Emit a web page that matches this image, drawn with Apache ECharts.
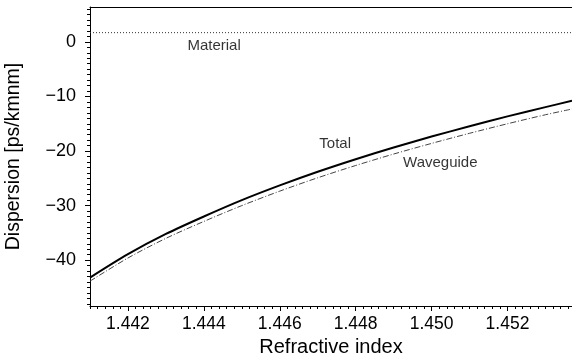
<!DOCTYPE html>
<html>
<head>
<meta charset="utf-8">
<script src="https://cdn.jsdelivr.net/npm/echarts@6/dist/echarts.min.js"></script>
<style>html,body{margin:0;padding:0;background:#fff}#c{width:572px;height:358px}</style>
</head>
<body>
<div id="c"></div>
<script>
// Data
const refractiveIndex = [1.4410, 1.4420, 1.4430, 1.4440, 1.4450, 1.4460, 1.4470, 1.4480, 1.4490, 1.4500, 1.4510, 1.4520, 1.4530, 1.4537];
const totalDispersion = [-43.2, -38.9, -35.2, -32.0, -29.0, -26.3, -23.8, -21.5, -19.35, -17.35, -15.45, -13.65, -11.95, -10.8];
const waveguideDispersion = [-43.85, -39.6, -36.0, -32.9, -30.0, -27.35, -24.9, -22.65, -20.55, -18.6, -16.75, -15.0, -13.35, -12.3];
const materialDispersion = [1.7, 1.7];
const materialX = [1.4410, 1.4537];
const xTickLabels = [1.442, 1.444, 1.446, 1.448, 1.450, 1.452];
const yTickLabels = [-40, -30, -20, -10, 0];
const curveNames = ['Material', 'Total', 'Waveguide'];
const curveLabelAnchors = [[1.44427, -0.7], [1.44746, -18.6], [1.45023, -22.1]];

const xMin = 1.441, xMax = 1.4537, yMin = -48.4, yMax = 6.4;
const xMinor = [];
for (let i = 0; i <= 63; i++) xMinor.push(+(1.441 + i * 0.0002).toFixed(4));
const yMinor = [];
for (let v = -48; v <= 6; v++) yMinor.push(v);

const font = '"Liberation Sans", Arial, sans-serif';
const black = '#000';

const chart = echarts.init(document.getElementById('c'), null, {renderer: 'canvas'});
chart.setOption({
  animation: false,
  backgroundColor: '#fff',
  grid: {left: 90, right: 0, top: 7, bottom: 52, containLabel: false, outerBoundsMode: 'none'},
  xAxis: [
    {
      type: 'value', min: xMin, max: xMax, position: 'bottom',
      axisLine: {show: true, onZero: false, lineStyle: {color: black, width: 1}},
      axisTick: {show: true, length: 5, customValues: xTickLabels, lineStyle: {color: black, width: 1}},
      axisLabel: {show: true, customValues: xTickLabels, margin: 9, color: black, fontFamily: font, fontSize: 17.5,
        formatter: v => v.toFixed(3)},
      splitLine: {show: false},
      name: 'Refractive index', nameLocation: 'middle', nameGap: 31,
      nameTextStyle: {color: black, fontFamily: font, fontSize: 20}
    },
    {
      type: 'value', min: xMin, max: xMax, position: 'bottom',
      axisLine: {show: false, onZero: false},
      axisTick: {show: true, length: 3, customValues: xMinor, lineStyle: {color: black, width: 1}},
      axisLabel: {show: false},
      splitLine: {show: false}
    },
    {
      type: 'value', min: xMin, max: xMax, position: 'top',
      axisLine: {show: true, onZero: false, lineStyle: {color: black, width: 1}},
      axisTick: {show: false}, axisLabel: {show: false}, splitLine: {show: false}
    }
  ],
  yAxis: [
    {
      type: 'value', min: yMin, max: yMax, position: 'left',
      axisLine: {show: true, onZero: false, lineStyle: {color: black, width: 1}},
      axisTick: {show: true, length: 5, customValues: yTickLabels, lineStyle: {color: black, width: 1}},
      axisLabel: {show: true, customValues: yTickLabels, margin: 14, color: black, fontFamily: font, fontSize: 18,
        formatter: v => (v < 0 ? '\u2212' + Math.abs(v) : String(v))},
      splitLine: {show: false},
      name: 'Dispersion [ps/kmnm]', nameLocation: 'middle', nameGap: 66,
      nameTextStyle: {color: black, fontFamily: font, fontSize: 19.5}
    },
    {
      type: 'value', min: yMin, max: yMax, position: 'left',
      axisLine: {show: false, onZero: false},
      axisTick: {show: true, length: 3, customValues: yMinor, lineStyle: {color: black, width: 1}},
      axisLabel: {show: false},
      splitLine: {show: false}
    }
  ],
  series: [
    {
      name: 'Material', type: 'line', xAxisIndex: 0, yAxisIndex: 0, showSymbol: false, symbol: 'none',
      data: materialX.map((x, i) => [x, materialDispersion[i]]),
      lineStyle: {color: '#333', width: 1, type: [1, 2]}
    },
    {
      name: 'Waveguide', type: 'line', xAxisIndex: 0, yAxisIndex: 0, showSymbol: false, symbol: 'none', smooth: 0.3,
      data: refractiveIndex.map((x, i) => [x, waveguideDispersion[i]]),
      lineStyle: {color: '#444', width: 1, type: [6, 2, 1, 2]}
    },
    {
      name: 'Total', type: 'line', xAxisIndex: 0, yAxisIndex: 0, showSymbol: false, symbol: 'none', smooth: 0.3,
      data: refractiveIndex.map((x, i) => [x, totalDispersion[i]]),
      lineStyle: {color: black, width: 2}
    },
    {
      name: 'labels', type: 'scatter', xAxisIndex: 0, yAxisIndex: 0, symbolSize: 0, silent: true,
      data: curveLabelAnchors.map((p, i) => ({value: p, name: curveNames[i]})),
      label: {show: true, position: 'inside', formatter: p => p.name, color: black, fontFamily: font, fontSize: 15}
    }
  ]
});
</script>
</body>
</html>
